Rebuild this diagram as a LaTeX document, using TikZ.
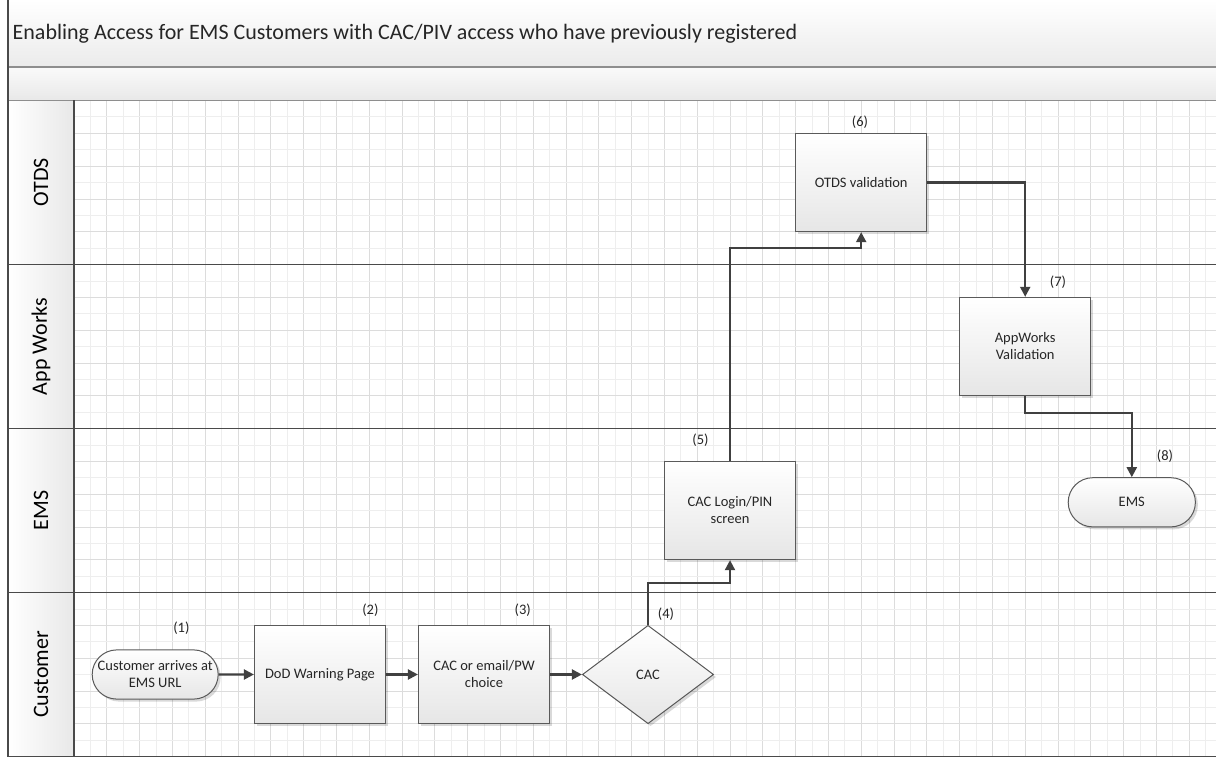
\documentclass[tikz,border=0pt]{standalone}
\usepackage{fontspec}
\setmainfont{Carlito}
\usetikzlibrary{shapes.geometric,shapes.misc,arrows.meta,shadows}
\definecolor{nodeline}{HTML}{5A5A5A}
\definecolor{flowc}{HTML}{404040}
\definecolor{lanec}{HTML}{4A4A4A}
\definecolor{hdrc}{HTML}{8E8E8E}
\definecolor{gridmin}{HTML}{EEEEEE}
\definecolor{gridmaj}{HTML}{DCDCDC}
\definecolor{txtc}{HTML}{262626}
\definecolor{fillbot}{HTML}{E6E6E6}
\tikzset{
  nodebase/.style={draw=nodeline, line width=1pt, top color=white, bottom color=fillbot,
    align=center, text=txtc, font=\fontsize{14.5}{17}\selectfont, inner sep=2pt,
    drop shadow={shadow xshift=2.5pt, shadow yshift=-2.5pt, fill=black, opacity=0.15}},
  procbox/.style={nodebase, rectangle, minimum width=131.2pt, minimum height=98.4pt},
  termbox/.style={nodebase, rounded rectangle, minimum width=130pt, minimum height=49.2pt},
  decbox/.style={nodebase, diamond, minimum width=131.2pt, minimum height=98.4pt, inner sep=0pt},
  flow/.style={draw=flowc, line width=2.2pt, -{Triangle[length=10pt,width=10pt]}},
  numlbl/.style={text=txtc, font=\fontsize{14.5}{17}\selectfont, inner sep=0pt},
  lanelbl/.style={text=black, font=\fontsize{22}{26}\selectfont, rotate=90, inner sep=0pt},
  laneline/.style={draw=lanec, line width=1.2pt},
  hdrline/.style={draw=hdrc, line width=1.6pt},
}
\begin{document}
\begin{tikzpicture}[x=1pt,y=-1pt]
\useasboundingbox (0,0) rectangle (1216,757);
\fill[white] (0,0) rectangle (1216,757);
% title bars
\fill[top color=white, bottom color=black!8] (8,0) rectangle (1216,67);
\fill[top color=black!2, bottom color=black!9] (8,67) rectangle (1216,100.5);
% grid
\foreach \i in {0,...,69} {
  \pgfmathtruncatemacro{\m}{mod(\i,2)}
  \ifnum\m=0 \def\gc{gridmaj}\else\def\gc{gridmin}\fi
  \draw[draw=\gc, line width=0.8pt] ({74+16.4*\i},100.5) -- ({74+16.4*\i},756.5);
}
\foreach \j in {0,...,40} {
  \pgfmathtruncatemacro{\m}{mod(\j,2)}
  \ifnum\m=0 \def\gc{gridmaj}\else\def\gc{gridmin}\fi
  \draw[draw=\gc, line width=0.8pt] (74,{100.5+16.4*\j}) -- (1216,{100.5+16.4*\j});
}
% lane header column
\foreach \ya/\yb in {100.5/264.5, 264.5/428.5, 428.5/592.5, 592.5/756.5}
  \fill[left color=white, right color=black!9] (8,\ya) rectangle (74,\yb);
% header lines
\draw[hdrline] (8,67) -- (1216,67);
\draw[hdrline] (8,100.5) -- (1216,100.5);
% lane lines
\draw[laneline] (8,264.5) -- (1216,264.5);
\draw[laneline] (8,428.5) -- (1216,428.5);
\draw[laneline] (8,592.5) -- (1216,592.5);
\draw[laneline] (8,756.5) -- (1216,756.5);
\draw[laneline] (74,100.5) -- (74,756.5);
\draw[laneline] (8,0) -- (8,756.5);
% title
\node[anchor=base west, text=txtc, font=\fontsize{22}{26}\selectfont, inner sep=0pt] (title) at (12.5,40)
  {Enabling Access for EMS Customers with CAC/PIV access who have previously registered};
% lane labels
\node[lanelbl] (lotds) at (41,182.5) {OTDS};
\node[lanelbl] (lapp) at (41,346.5) {App Works};
\node[lanelbl] (lems) at (41,510.5) {EMS};
\node[lanelbl] (lcust) at (41,674.5) {Customer};
\begin{scope}[shift={(74,100.5)}, x=16.4pt, y=-16.4pt]
  \node[termbox] (n1) at (4.95,35) {Customer arrives at\\EMS URL};
  \node[procbox] (n2) at (15,35) {DoD Warning Page};
  \node[procbox] (n3) at (25,35) {CAC or email/PW\\choice};
  \node[decbox] (n4) at (35,35) {CAC};
  \node[procbox] (n5) at (40,25) {CAC Login/PIN\\screen};
  \node[procbox] (n6) at (48,5) {OTDS validation};
  \node[procbox] (n7) at (58,15) {AppWorks\\Validation};
  \node[termbox, minimum width=131.2pt] (n8) at (64.5,24.5) {EMS};
  \node[numlbl] (l1) at (6.55,32.2) {(1)};
  \node[numlbl] (l2) at (18.07,31.07) {(2)};
  \node[numlbl] (l3) at (27.36,31.07) {(3)};
  \node[numlbl] (l4) at (36.1,31.33) {(4)};
  \node[numlbl] (l5) at (38.2,20.7) {(5)};
  \node[numlbl] (l6) at (47.93,1.35) {(6)};
  \node[numlbl] (l7) at (60.0,11.05) {(7)};
  \node[numlbl] (l8) at (66.52,21.68) {(8)};
  \draw[flow] (n1) -- (n2);
  \draw[flow] (n2) -- (n3);
  \draw[flow] (n3) -- (n4);
  \draw[flow] (n4.north) -- ++(0,-2.55) -| (n5.south);
  \draw[flow] (n5.north) -- ++(0,-13) -| (n6.south);
  \draw[flow] (n6.east) -| (n7.north);
  \draw[flow] (n7.south) -- ++(0,1) -| (n8.north);
\end{scope}
\end{tikzpicture}
\end{document}
